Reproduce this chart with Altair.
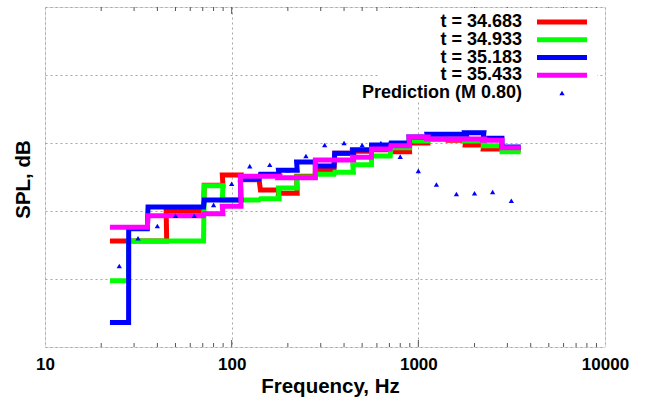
import altair as alt
import pandas as pd

# 1/3-octave band centre frequencies (Hz)
bands_hz = [25, 31.5, 40, 50, 63, 80, 100, 125, 160, 200, 250, 315, 400, 500,
            630, 800, 1000, 1250, 1600, 2000, 2500, 3150]

series_names = ["t = 34.683", "t = 34.933", "t = 35.183", "t = 35.433"]
series_colors = ["#ff0000", "#00ff00", "#0000ff", "#ff00ff"]

spl_t34683 = [65.6, 65.6, 65.6, 70.0, 70.0, 73.8, 75.3, 74.6, 73.1, 72.6, 75.1,
              76.0, 78.5, 78.8, 79.0, 78.7, 80.0, 80.6, 80.4, 79.7, 79.1, 79.0]
spl_t34933 = [59.75, 65.6, 65.6, 65.6, 65.6, 73.7, 71.6, 71.6, 71.8, 73.4, 75.0,
              75.4, 75.7, 76.8, 78.1, 79.3, 80.3, 80.6, 80.6, 80.3, 79.6, 78.7]
spl_t35183 = [53.6, 67.4, 70.6, 70.6, 70.6, 71.6, 71.6, 74.7, 75.4, 76.0, 77.2,
              76.6, 78.5, 79.0, 79.7, 80.0, 80.9, 81.3, 81.3, 81.5, 80.7, 79.4]
spl_t35433 = [67.6, 67.6, 69.3, 69.3, 69.3, 69.6, 70.7, 75.1, 75.1, 74.9, 74.9,
              77.5, 77.5, 77.9, 79.1, 79.6, 80.9, 80.6, 80.6, 80.6, 80.4, 79.3]

pred_label = "Prediction (M 0.80)"
pred_spl = [61.9, 66.0, 67.8, 69.3, 69.3, 70.9, 74.0, 76.6, 76.8, 76.0, 78.1,
            79.7, 80.0, 79.7, 80.0, 78.0, 75.9, 73.9, 72.5, 72.6, 72.8, 71.5]

x_label_values = [10, 100, 1000, 10000]
x_minor_ticks = [20, 30, 40, 50, 60, 70, 80, 90,
                 200, 300, 400, 500, 600, 700, 800, 900,
                 2000, 3000, 4000, 5000, 6000, 7000, 8000, 9000]
x_major_ticks = [100, 1000]
y_grid_values = [50, 60, 70, 80, 90, 100]

all_series = [spl_t34683, spl_t34933, spl_t35183, spl_t35433]

W, H = 560, 340
FONT = "Liberation Sans"

xscale = alt.Scale(type="log", domain=[10, 10000])
yscale = alt.Scale(domain=[50, 100], nice=False, zero=False)

x_axis = alt.Axis(values=x_label_values, format="d", grid=True, gridDash=[2, 3],
                  gridColor="#a6a6a6", ticks=False, tickSize=0, domain=False,
                  labelFlush=False, labelOverlap=False, labelFont=FONT,
                  labelFontSize=17, labelFontWeight="bold", labelColor="#000",
                  labelPadding=9, title="Frequency, Hz", titleFont=FONT,
                  titleFontSize=20.5, titleFontWeight="bold", titleColor="#000",
                  titleX=285, titleY=39, titleBaseline="middle")
y_axis = alt.Axis(values=y_grid_values, grid=True, gridDash=[2, 3],
                  gridColor="#a6a6a6", labels=False, ticks=False, domain=False,
                  title="SPL, dB", titleFont=FONT, titleFontSize=20.5,
                  titleFontWeight="bold", titleColor="#000", titleX=-22,
                  titleY=172, titleBaseline="middle", titleAngle=270)


def step_frame(values, name):
    rows = []
    for k, (fc, v) in enumerate(zip(bands_hz, values)):
        rows.append({"series": name, "order": 2 * k, "freq": fc * 10 ** (-0.05), "spl": v})
        rows.append({"series": name, "order": 2 * k + 1, "freq": fc * 10 ** 0.05, "spl": v})
    return pd.DataFrame(rows)


X = alt.X("freq:Q", scale=xscale, axis=x_axis)
Y = alt.Y("spl:Q", scale=yscale, axis=y_axis)

# ---------------- data layers (shared scales) ----------------
base = alt.Chart(pd.DataFrame({"freq": bands_hz, "spl": pred_spl})).mark_point(
    opacity=0).encode(x=X, y=Y)

data_layers = [base]
for vals, name, col in zip(all_series, series_names, series_colors):
    data_layers.append(
        alt.Chart(step_frame(vals, name)).mark_line(
            strokeWidth=5, strokeJoin="miter", strokeCap="butt", color=col
        ).encode(x=X, y=Y, order="order:Q")
    )

pred_df = pd.DataFrame({"freq": bands_hz, "spl": pred_spl})
data_layers.append(
    alt.Chart(pred_df).mark_point(shape="triangle-up", filled=True, size=28,
                                  color="#0000ff", opacity=1).encode(x=X, y=Y)
)

# inward ticks (bottom and top)
minor_df = pd.DataFrame({"freq": x_minor_ticks})
major_df = pd.DataFrame({"freq": x_major_ticks})
tick_color = "#555555"
for df, ln in ((minor_df, 4), (major_df, 7)):
    data_layers.append(alt.Chart(df).mark_rule(color=tick_color, strokeWidth=1).encode(
        x=X, y=alt.value(H), y2=alt.value(H - ln)))
    data_layers.append(alt.Chart(df).mark_rule(color=tick_color, strokeWidth=1).encode(
        x=X, y=alt.value(0), y2=alt.value(ln)))

data_chart = alt.layer(*data_layers)

# ---------------- legend layers ----------------
legend_labels = series_names + [pred_label]
leg_df = pd.DataFrame({"label": legend_labels,
                       "row": list(range(len(legend_labels))),
                       "color": series_colors + ["#0000ff"]})
legend_y = alt.Scale(domain=[0, len(legend_labels) - 1], range=[15, 86],
                     nice=False, zero=False)
LY = alt.Y("row:Q", scale=legend_y, axis=None)

leg_bg = alt.Chart(pd.DataFrame({"a": [0]})).mark_rect(color="white").encode(
    x=alt.value(335), x2=alt.value(552), y=alt.value(1), y2=alt.value(95))
leg_text = alt.Chart(leg_df).mark_text(
    align="right", baseline="middle", font=FONT, fontSize=18, fontWeight="bold",
    color="#000").encode(x=alt.value(477), y=LY, text="label:N")
leg_lines = alt.Chart(leg_df[leg_df.label != pred_label]).mark_rule(strokeWidth=5).encode(
    x=alt.value(492), x2=alt.value(542), y=LY,
    color=alt.Color("color:N", scale=None, legend=None))
leg_pt = alt.Chart(leg_df[leg_df.label == pred_label]).mark_point(
    shape="triangle-up", filled=True, size=28, color="#0000ff", opacity=1).encode(
    x=alt.value(517), y=LY)

legend_chart = alt.layer(leg_bg, leg_text, leg_lines, leg_pt)

chart = alt.layer(data_chart, legend_chart).resolve_scale(y="independent").properties(
    width=W, height=H,
    autosize=alt.AutoSizeParams(type="none"),
    padding={"left": 45, "top": 7, "right": 43, "bottom": 57},
).configure_view(stroke="#444444", strokeWidth=1).configure(background="white")

chart.save("out.html", embed_options={"renderer": "svg", "actions": False})
